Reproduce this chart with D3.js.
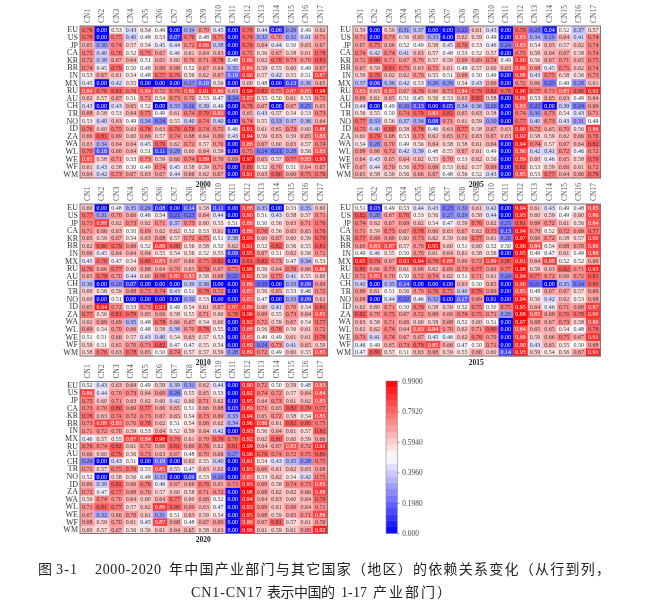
<!DOCTYPE html>
<html><head><meta charset="utf-8">
<style>html,body{margin:0;padding:0;background:#fff}svg{display:block;filter:blur(.3px)}</style>
<script src="https://cdn.jsdelivr.net/npm/d3@7/dist/d3.min.js"></script>
</head><body><svg id="c" width="671" height="612"></svg>
<script>
const regions = ["EU","US","JP","CA","KR","BR","IN","MX","RU","AU","CH","TR","NO","ID","ZA","WA","WL","WE","WF","WM"];
const sectors = ["CN1","CN2","CN3","CN4","CN5","CN6","CN7","CN8","CN9","CN10","CN11","CN12","CN13","CN14","CN15","CN16","CN17"];
const legendTicks = [0.99,0.792,0.594,0.396,0.198,0];
const legendLabels = ["0.9900","0.7920","0.5940","0.3960","0.1980","0.000"];
const values2000 = [
[.78,.00,.53,.43,.54,.49,.00,.34,.70,.45,.00,.78,.44,.06,.29,.49,.62],
[.78,.00,.75,.40,.48,.53,.07,.76,.48,.75,.00,.79,.32,.70,.32,.41,.71],
[.65,.30,.74,.57,.54,.45,.44,.72,.86,.38,.00,.79,.64,.44,.50,.63,.67],
[.75,.40,.76,.52,.75,.67,.46,.61,.64,.63,.00,.75,.56,.67,.58,.61,.78],
[.72,.38,.67,.64,.51,.65,.60,.70,.71,.78,.48,.86,.62,.78,.73,.70,.81],
[.74,.45,.79,.50,.48,.69,.68,.52,.67,.64,.35,.84,.59,.55,.60,.49,.67],
[.53,.67,.61,.54,.48,.77,.76,.56,.62,.67,.19,.90,.57,.42,.55,.51,.87],
[.45,.00,.42,.55,.00,.00,.00,.27,.19,.56,.00,.60,.48,.00,.13,.36,.65],
[.84,.78,.81,.76,.84,.72,.76,.86,.91,.86,.63,.99,.82,.75,.87,.85,.98],
[.62,.57,.67,.51,.72,.54,.73,.70,.53,.47,.24,.87,.55,.50,.61,.53,.72],
[.43,.00,.43,.65,.52,.00,.33,.26,.39,.46,.00,.78,.67,.00,.67,.25,.65],
[.68,.58,.53,.64,.75,.49,.61,.74,.79,.83,.00,.65,.43,.57,.54,.53,.73],
[.53,.40,.63,.49,.34,.24,.55,.40,.74,.40,.00,.74,.55,.33,.37,.36,.64],
[.76,.60,.75,.63,.78,.63,.79,.78,.74,.72,.46,.91,.61,.65,.73,.60,.88],
[.66,.81,.69,.60,.69,.57,.74,.68,.64,.69,.43,.94,.59,.63,.59,.65,.83],
[.63,.34,.64,.64,.45,.79,.62,.71,.57,.70,.00,.86,.67,.60,.63,.57,.74],
[.76,.16,.66,.64,.51,.11,.28,.60,.64,.59,.00,.75,.24,.21,.28,.56,.83],
[.85,.58,.71,.53,.73,.59,.66,.74,.89,.70,.69,.97,.65,.57,.77,.83,.93],
[.61,.43,.58,.50,.49,.74,.45,.58,.59,.71,.00,.80,.52,.70,.51,.64,.67],
[.64,.42,.73,.67,.63,.67,.44,.66,.62,.67,.00,.91,.63,.80,.66,.75,.76]];
const values2005 = [
[.59,.00,.59,.31,.37,.00,.00,.22,.61,.43,.00,.79,.23,.04,.52,.37,.57],
[.71,.00,.73,.56,.65,.33,.00,.62,.59,.49,.00,.83,.34,.29,.64,.41,.74],
[.67,.75,.66,.52,.49,.58,.45,.76,.53,.46,.24,.83,.54,.63,.57,.62,.74],
[.74,.42,.74,.41,.63,.57,.48,.53,.52,.57,.00,.75,.59,.64,.67,.58,.74],
[.71,.80,.71,.67,.70,.57,.59,.69,.69,.74,.49,.90,.56,.67,.71,.65,.75],
[.67,.59,.81,.75,.63,.72,.61,.49,.57,.60,.63,.86,.68,.45,.75,.62,.74],
[.59,.79,.62,.62,.70,.55,.51,.68,.50,.49,.00,.88,.43,.75,.58,.56,.73],
[.37,.06,.36,.42,.53,.29,.29,.54,.43,.66,.00,.72,.66,.23,.49,.29,.61],
[.83,.63,.85,.67,.76,.66,.73,.84,.79,.82,.78,.96,.77,.73,.83,.80,.92],
[.69,.61,.65,.51,.45,.56,.53,.63,.82,.58,.00,.89,.53,.65,.63,.49,.64],
[.44,.00,.49,.26,.13,.00,.05,.34,.36,.26,.00,.83,.22,.00,.39,.24,.69],
[.56,.55,.50,.74,.79,.83,.82,.65,.63,.58,.00,.74,.30,.73,.54,.43,.71],
[.77,.33,.56,.37,.34,.08,.71,.61,.59,.30,.00,.77,.40,.73,.43,.31,.49],
[.75,.40,.80,.58,.78,.46,.63,.77,.58,.67,.63,.90,.72,.65,.70,.56,.88],
[.60,.79,.68,.53,.73,.62,.65,.71,.63,.67,.63,.92,.58,.59,.62,.66,.76],
[.54,.28,.70,.49,.56,.64,.58,.58,.61,.64,.00,.94,.74,.57,.67,.64,.82],
[.69,.66,.72,.42,.39,.48,.55,.67,.61,.49,.00,.86,.42,.41,.72,.46,.72],
[.64,.43,.65,.64,.62,.55,.70,.53,.62,.56,.00,.89,.60,.46,.65,.58,.79],
[.67,.44,.70,.56,.73,.69,.53,.62,.57,.69,.00,.82,.53,.59,.66,.61,.72],
[.65,.58,.59,.56,.66,.67,.48,.56,.52,.43,.00,.85,.53,.77,.64,.66,.79]];
const values2010 = [
[.60,.00,.48,.35,.29,.08,.00,.14,.58,.11,.00,.88,.35,.00,.53,.35,.60],
[.77,.31,.70,.66,.46,.54,.21,.23,.64,.44,.00,.90,.51,.43,.58,.57,.71],
[.73,.88,.62,.73,.62,.71,.37,.73,.60,.55,.51,.86,.50,.56,.63,.71,.76],
[.71,.66,.63,.50,.69,.62,.62,.52,.53,.61,.00,.86,.76,.56,.65,.65,.76],
[.65,.59,.67,.54,.63,.68,.57,.72,.75,.51,.38,.95,.60,.67,.60,.59,.79],
[.62,.80,.79,.69,.52,.88,.80,.56,.58,.50,.62,.91,.52,.82,.56,.55,.81],
[.66,.45,.64,.64,.64,.55,.54,.56,.52,.55,.09,.95,.67,.51,.62,.56,.71],
[.45,.78,.47,.54,.80,.83,.67,.66,.75,.82,.00,.81,.82,.73,.47,.34,.53],
[.76,.66,.77,.60,.68,.64,.70,.63,.79,.67,.75,.96,.56,.64,.76,.66,.86],
[.65,.79,.70,.44,.60,.78,.85,.83,.56,.68,.22,.92,.56,.75,.41,.55,.60],
[.36,.00,.26,.07,.00,.00,.00,.39,.36,.00,.00,.86,.20,.00,.33,.09,.69],
[.60,.56,.59,.68,.73,.74,.43,.51,.78,.72,.00,.85,.56,.65,.53,.46,.72],
[.60,.00,.51,.00,.00,.00,.00,.32,.53,.00,.00,.85,.47,.00,.33,.09,.62],
[.65,.94,.72,.53,.73,.93,.49,.54,.61,.67,.87,.89,.60,.41,.70,.54,.81],
[.77,.56,.81,.79,.65,.66,.58,.55,.71,.60,.78,.96,.69,.55,.73,.64,.85],
[.62,.69,.69,.35,.48,.78,.66,.67,.54,.60,.00,.92,.72,.59,.67,.54,.77],
[.69,.54,.70,.66,.48,.58,.38,.70,.78,.55,.00,.88,.56,.76,.56,.61,.72],
[.51,.51,.66,.57,.43,.40,.54,.63,.57,.53,.00,.85,.49,.49,.61,.61,.79],
[.59,.51,.65,.70,.73,.82,.47,.47,.55,.54,.00,.89,.24,.73,.41,.65,.59],
[.58,.76,.63,.78,.65,.50,.74,.57,.57,.59,.28,.89,.72,.49,.60,.55,.85]];
const values2015 = [
[.51,.03,.49,.53,.44,.43,.23,.30,.61,.42,.00,.94,.61,.43,.49,.48,.85],
[.82,.28,.67,.76,.53,.56,.27,.29,.58,.44,.00,.93,.60,.59,.49,.60,.86],
[.74,.62,.67,.69,.62,.54,.47,.59,.76,.62,.25,.81,.69,.72,.61,.56,.84],
[.71,.59,.75,.67,.78,.66,.63,.67,.62,.75,.13,.94,.70,.52,.72,.69,.77],
[.77,.69,.69,.60,.73,.62,.59,.60,.77,.61,.26,.97,.66,.72,.58,.57,.90],
[.69,.83,.87,.57,.70,.95,.60,.51,.60,.52,.50,.96,.84,.54,.68,.70,.88],
[.49,.46,.55,.50,.70,.61,.64,.61,.58,.56,.00,.95,.49,.47,.61,.49,.86],
[.95,.79,.67,.93,.94,.78,.88,.66,.72,.89,.80,.91,.64,.88,.52,.52,.66],
[.80,.66,.73,.61,.68,.62,.69,.73,.77,.69,.77,.98,.59,.63,.82,.71,.93],
[.72,.85,.70,.50,.72,.74,.62,.51,.71,.61,.24,.94,.77,.72,.66,.72,.81],
[.40,.00,.35,.14,.00,.00,.00,.63,.50,.65,.00,.90,.21,.00,.35,.24,.80],
[.69,.61,.51,.56,.70,.76,.75,.40,.79,.69,.00,.85,.48,.67,.67,.57,.69],
[.68,.00,.44,.22,.46,.32,.00,.17,.69,.01,.00,.94,.56,.42,.62,.53,.68],
[.62,.60,.71,.50,.76,.58,.59,.52,.75,.50,.75,.95,.64,.46,.71,.68,.87],
[.82,.70,.75,.67,.72,.69,.66,.74,.75,.71,.29,.98,.85,.69,.76,.78,.90],
[.63,.58,.71,.66,.60,.58,.68,.52,.60,.51,.00,.97,.68,.67,.73,.58,.86],
[.62,.62,.74,.64,.83,.84,.70,.62,.71,.80,.00,.84,.65,.65,.54,.48,.78],
[.73,.41,.74,.67,.67,.45,.46,.62,.76,.70,.00,.89,.59,.66,.75,.67,.91],
[.46,.49,.65,.73,.79,.85,.66,.47,.50,.71,.00,.90,.43,.65,.55,.50,.68],
[.47,.80,.57,.51,.63,.68,.59,.55,.66,.60,.14,.93,.59,.54,.56,.67,.91]];
const values2020 = [
[.52,.43,.63,.64,.49,.59,.39,.31,.62,.44,.00,.90,.72,.50,.59,.48,.83],
[.86,.44,.70,.73,.64,.69,.26,.55,.65,.53,.00,.92,.74,.72,.57,.64,.84],
[.75,.60,.71,.63,.62,.60,.42,.60,.71,.62,.00,.95,.64,.73,.61,.62,.83],
[.73,.70,.80,.69,.77,.66,.65,.51,.66,.68,.03,.89,.71,.65,.82,.79,.77],
[.78,.63,.74,.72,.73,.67,.65,.54,.73,.69,.33,.94,.65,.72,.58,.54,.85],
[.73,.88,.83,.70,.78,.62,.51,.54,.68,.62,.34,.96,.86,.61,.82,.80,.75],
[.71,.72,.70,.59,.53,.64,.52,.59,.64,.42,.00,.93,.56,.64,.61,.57,.81],
[.46,.57,.55,.87,.84,.98,.76,.61,.70,.79,.76,.92,.62,.80,.60,.59,.66],
[.76,.74,.82,.61,.72,.66,.81,.69,.76,.62,.81,.99,.64,.67,.83,.72,.91],
[.66,.60,.79,.56,.73,.63,.67,.48,.70,.66,.27,.96,.79,.74,.72,.75,.80],
[.26,.00,.43,.51,.00,.19,.00,.62,.55,.40,.00,.91,.54,.43,.35,.28,.75],
[.71,.57,.75,.76,.53,.85,.55,.47,.63,.62,.00,.93,.69,.61,.62,.63,.68],
[.52,.00,.58,.56,.48,.33,.00,.09,.53,.26,.00,.85,.53,.62,.54,.42,.75],
[.66,.39,.82,.66,.76,.46,.67,.66,.76,.65,.73,.93,.69,.58,.74,.73,.85],
[.72,.47,.77,.68,.70,.57,.60,.58,.71,.72,.00,.98,.68,.62,.62,.66,.88],
[.56,.74,.70,.64,.60,.64,.77,.60,.68,.52,.00,.94,.64,.63,.60,.64,.79],
[.71,.81,.77,.57,.62,.89,.80,.69,.63,.47,.00,.93,.69,.61,.69,.64,.71],
[.67,.32,.66,.70,.61,.31,.51,.63,.59,.54,.00,.95,.68,.59,.65,.71,.86],
[.68,.59,.70,.61,.45,.87,.68,.48,.67,.69,.00,.89,.67,.81,.57,.61,.70],
[.60,.57,.67,.56,.56,.61,.64,.65,.58,.63,.00,.96,.61,.59,.61,.69,.92]];
const years = ["2000","2005","2010","2015","2020"];
const seriesByYear = [values2000, values2005, values2010, values2015, values2020];
const captionTexts = ["图","3-1","2000-2020","年中国产业部门与其它国家（地区）的依赖关系变化（从行到列，","CN1-CN17","表示中国的","1-17","产业部门）"];

// layout
const SERIF = '"Liberation Serif","Noto Sans CJK SC",serif';
const W = 247.5, H = 152;
const origins = [[80,26],[353,26],[80,204],[353,204],[80,381.5]];
const titleY = [187,187,364.5,364.5,542];
const svg = d3.select("#c").attr("font-family", SERIF);
svg.append("rect").attr("width",671).attr("height",612).attr("fill","#fff");
const color = d3.scaleLinear().domain([0,0.495,0.99]).range(["#0000ff","#ffffff","#ff0000"]);
const fmt = d3.format(".2f");
const x = d3.scaleBand().domain(sectors).range([0,W]);
const y = d3.scaleBand().domain(regions).range([0,H]);

years.forEach((yr,p)=>{
  const g = svg.append("g").attr("transform",`translate(${origins[p]})`);
  const cells = seriesByYear[p].flatMap((row,r)=>row.map((v,c)=>({r:regions[r],c:sectors[c],v})));
  g.selectAll("rect.cell").data(cells).join("rect").attr("class","cell")
    .attr("x",d=>x(d.c)).attr("y",d=>y(d.r))
    .attr("width",x.bandwidth()+.3).attr("height",y.bandwidth()+.3)
    .attr("fill",d=>color(d.v));
  g.selectAll("text.val").data(cells).join("text").attr("class","val")
    .attr("x",d=>x(d.c)+x.bandwidth()/2).attr("y",d=>y(d.r)+y.bandwidth()/2)
    .attr("dy","0.34em").attr("text-anchor","middle").attr("font-size",6)
    .attr("fill",d=>(d.v>=0.83||d.v<0.2)?"#fff":"#333").text(d=>fmt(d.v));
  g.append("rect").attr("width",W).attr("height",H).attr("fill","none").attr("stroke","#777").attr("stroke-width",1);

  const ax = g.append("g").call(d3.axisTop(x).tickSize(0).tickPadding(0));
  ax.select(".domain").remove();
  ax.selectAll("text").attr("font-family",SERIF).attr("font-size",7.5).attr("fill","#555")
    .attr("transform","rotate(-90)").attr("text-anchor","start").attr("x",3).attr("y",0).attr("dy","0.32em");
  const ay = g.append("g").call(d3.axisLeft(y).tickSize(0).tickPadding(2));
  ay.select(".domain").remove();
  ay.selectAll("text").attr("font-family",SERIF).attr("font-size",8).attr("fill","#333");

  svg.append("text").attr("x",origins[p][0]+W/2-.5).attr("y",titleY[p]).attr("text-anchor","middle")
    .attr("font-size",7.5).attr("font-weight","bold").attr("fill","#222").text(yr);
});

// colour legend
const lg = svg.append("g").attr("transform","translate(386,381)");
const barH = 152.3, barW = 11.3;
const ly = d3.scaleLinear().domain([0.99,0]).range([0,barH]);
const stepsN = 24;
const stepVals = d3.range(stepsN).map(i=>0.99*(i+0.5)/stepsN);
lg.selectAll("rect.step").data(stepVals).join("rect").attr("class","step")
  .attr("x",0).attr("width",barW)
  .attr("y",d=>ly(d)-barH/stepsN/2).attr("height",barH/stepsN+.3)
  .attr("fill",d=>color(d));
lg.append("rect").attr("width",barW).attr("height",barH).attr("fill","none").attr("stroke","#888").attr("stroke-width",.6);
const laxis = d3.axisRight(ly).tickValues(legendTicks).tickSize(2).tickPadding(3)
  .tickFormat((d,i)=>legendLabels[i]);
const lax = lg.append("g").attr("transform",`translate(${barW},0)`).call(laxis);
lax.select(".domain").remove();
lax.selectAll("line").attr("stroke","#888");
lax.selectAll("text").attr("font-family",SERIF).attr("font-size",7.4).attr("fill","#444");

// caption: each run placed on its own so Latin stays tight and CJK keeps its spacing
const captionX = [38,56,95,169,191,267,341,373];
const captionY = [574,574,574,574,597,597,597,597];
const captionLen = [14,21,66,441,71,68,26,78];
svg.selectAll("text.cap").data(captionTexts).join("text").attr("class","cap")
  .attr("x",(d,i)=>captionX[i]).attr("y",(d,i)=>captionY[i])
  .attr("font-size",14).attr("fill","#222")
  .attr("textLength",(d,i)=>captionLen[i]).attr("lengthAdjust","spacing").text(d=>d);
</script></body></html>
